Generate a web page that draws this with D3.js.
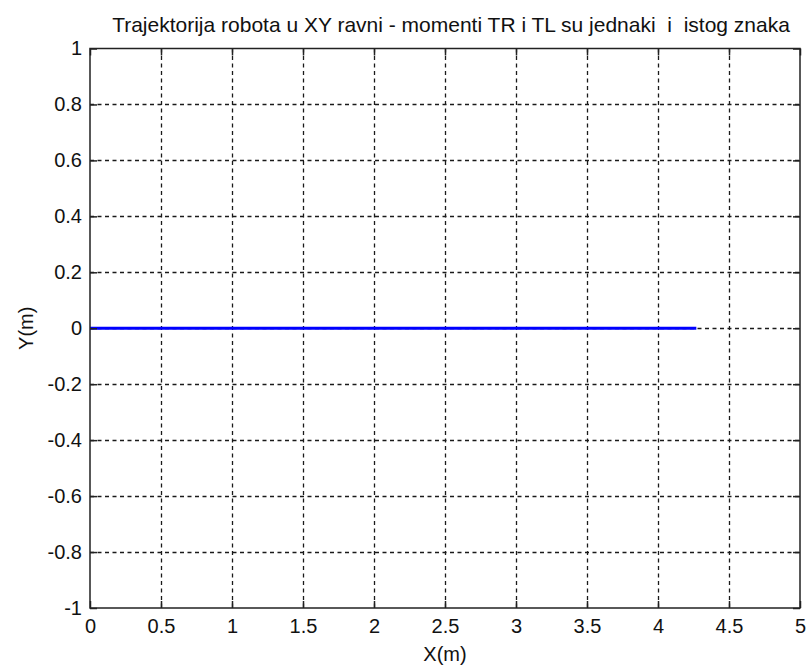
<!DOCTYPE html>
<html>
<head>
<meta charset="utf-8">
<script src="https://cdn.jsdelivr.net/npm/d3@7"></script>
<style>
  body { margin: 0; background: #fff; }
  text { font-family: "Liberation Sans", Arial, sans-serif; fill: #111; white-space: pre; }
</style>
</head>
<body>
<svg id="chart" width="808" height="666"></svg>
<script>
// trajectory of the robot (straight line along X)
var trajX = [0, 1, 2, 3, 4, 4.27];
var trajY = [0, 0, 0, 0, 0, 0];

var xTicks = [0, 0.5, 1, 1.5, 2, 2.5, 3, 3.5, 4, 4.5, 5];
var yTicks = [-1, -0.8, -0.6, -0.4, -0.2, 0, 0.2, 0.4, 0.6, 0.8, 1];

var titleText = "Trajektorija robota u XY ravni - momenti TR i TL su jednaki  i  istog znaka";

// plot box (note: "top" is a reserved global in browsers)
var pLeft = 90, pRight = 800, pTop = 48.5, pBottom = 608;

var svg = d3.select("#chart");

var x = d3.scaleLinear().domain([0, 5]).range([pLeft, pRight]);
var y = d3.scaleLinear().domain([-1, 1]).range([pBottom, pTop]);

// grid lines, dashed
var grid = svg.append("g")
    .attr("stroke", "#1a1a1a")
    .attr("stroke-width", 1.3)
    .attr("stroke-dasharray", "4,3.5");

grid.selectAll("line.gx")
    .data(xTicks.slice(1, -1))
    .enter().append("line")
    .attr("x1", function(d) { return Math.round(x(d)) + 0.5; })
    .attr("x2", function(d) { return Math.round(x(d)) + 0.5; })
    .attr("y1", pTop)
    .attr("y2", pBottom);

grid.selectAll("line.gy")
    .data(yTicks.slice(1, -1))
    .enter().append("line")
    .attr("y1", function(d) { return Math.round(y(d)) + 0.5; })
    .attr("y2", function(d) { return Math.round(y(d)) + 0.5; })
    .attr("x1", pLeft)
    .attr("x2", pRight);

// trajectory
var line = d3.line()
    .x(function(d, i) { return x(trajX[i]); })
    .y(function(d, i) { return y(trajY[i]); });

svg.append("path")
    .datum(trajX)
    .attr("d", line)
    .attr("fill", "none")
    .attr("stroke", "#0000ff")
    .attr("stroke-width", 3);

// axes with inward ticks on all four sides
var tickLen = 7;
var fmt = function(d) { return String(d); };

var bottomAxis = svg.append("g")
    .attr("transform", "translate(0," + pBottom + ")")
    .call(d3.axisBottom(x).tickValues(xTicks).tickFormat(fmt).tickSizeInner(-tickLen).tickSizeOuter(0).tickPadding(11));
var leftAxis = svg.append("g")
    .attr("transform", "translate(" + pLeft + ",0)")
    .call(d3.axisLeft(y).tickValues(yTicks).tickFormat(fmt).tickSizeInner(-tickLen).tickSizeOuter(0).tickPadding(8));
var topAxis = svg.append("g")
    .attr("transform", "translate(0," + pTop + ")")
    .call(d3.axisTop(x).tickValues(xTicks).tickFormat("").tickSizeInner(-tickLen).tickSizeOuter(0));
var rightAxis = svg.append("g")
    .attr("transform", "translate(" + pRight + ",0)")
    .call(d3.axisRight(y).tickValues(yTicks).tickFormat("").tickSizeInner(-tickLen).tickSizeOuter(0));

[bottomAxis, leftAxis, topAxis, rightAxis].forEach(function(a) {
    a.select(".domain").remove();
    a.selectAll("line").attr("stroke", "#222").attr("stroke-width", 1.5);
    a.selectAll("text")
        .style("font-family", "'Liberation Sans', Arial, sans-serif")
        .style("font-size", "20px")
        .attr("fill", "#111");
});

// box
svg.append("rect")
    .attr("x", pLeft)
    .attr("y", pTop)
    .attr("width", pRight - pLeft)
    .attr("height", pBottom - pTop)
    .attr("fill", "none")
    .attr("stroke", "#222")
    .attr("stroke-width", 1.5);

// labels
svg.append("text")
    .attr("x", (pLeft + pRight) / 2 + 6)
    .attr("y", 32)
    .attr("text-anchor", "middle")
    .style("font-size", "21px")
    .text(titleText);

svg.append("text")
    .attr("x", (pLeft + pRight) / 2)
    .attr("y", 661)
    .attr("text-anchor", "middle")
    .style("font-size", "20px")
    .text("X(m)");

svg.append("text")
    .attr("transform", "translate(33," + y(0) + ") rotate(-90)")
    .attr("text-anchor", "middle")
    .style("font-size", "20px")
    .text("Y(m)");
</script>
</body>
</html>
